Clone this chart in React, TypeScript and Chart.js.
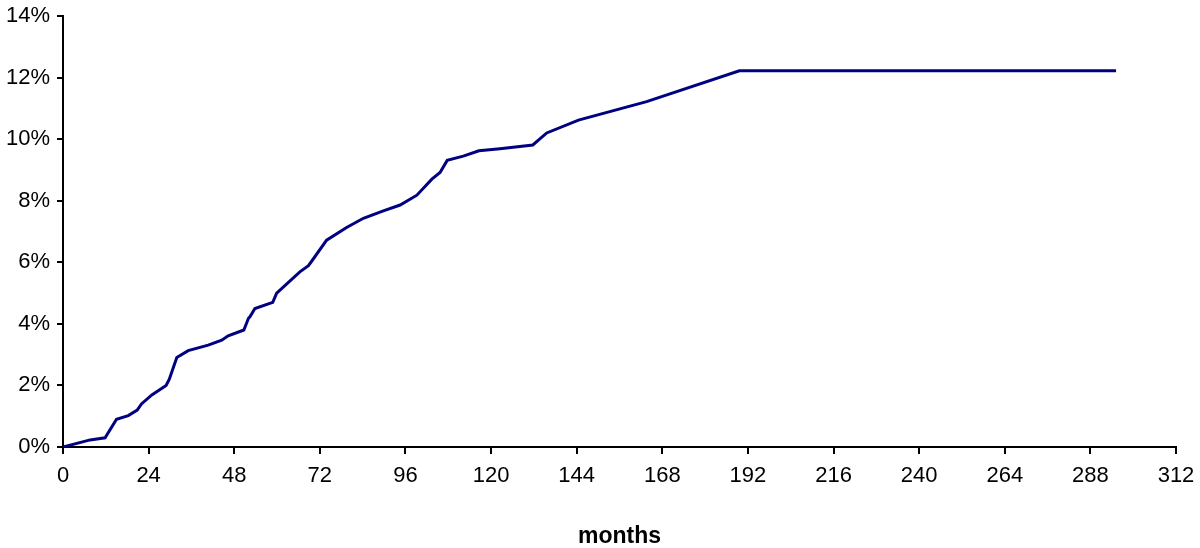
import React, { useEffect, useRef } from "react";
import { Chart, registerables } from "chart.js";

Chart.register(...registerables);

const months = [0, 7.6, 11.8, 15, 18.3, 20.8, 22, 24.9, 28.9, 29.8, 31.9, 35.1, 40.7, 44.5, 46.3, 50.7, 52, 52.4, 53.8, 58.8, 59.9, 66.4, 68.8, 69.8, 73.9, 79.5, 84.2, 89.8, 94.5, 99.2, 103.4, 105.7, 107.7, 112.2, 116.6, 122.5, 131.7, 135.6, 144.5, 163.6, 189.6, 295.2];
const incidence = [0, 0.23, 0.3, 0.9, 1.02, 1.2, 1.4, 1.69, 2.0, 2.2, 2.91, 3.13, 3.31, 3.47, 3.61, 3.8, 4.18, 4.23, 4.5, 4.7, 5.0, 5.69, 5.89, 6.05, 6.72, 7.13, 7.43, 7.67, 7.86, 8.18, 8.7, 8.92, 9.31, 9.45, 9.62, 9.69, 9.81, 10.2, 10.62, 11.22, 12.22, 12.22];
const xTicks = { min: 0, max: 312, step: 24 };
const yTicks = { min: 0, max: 14, step: 2 };
const xTitle = "months";

export default function App() {
  const ref = useRef<HTMLCanvasElement>(null);
  useEffect(() => {
    document.body.style.margin = "0";
    const ctx = ref.current!.getContext("2d")!;
    const font = { family: "'Liberation Sans', Arial, sans-serif", size: 22 };
    const chart = new Chart(ctx, {
      type: "line",
      data: {
        datasets: [
          {
            data: months.map((m, i) => ({ x: m, y: incidence[i] })),
            borderColor: "#000080",
            borderWidth: 3,
            pointRadius: 0,
            tension: 0,
            fill: false,
          },
        ],
      },
      options: {
        animation: false,
        responsive: false,
        maintainAspectRatio: false,
        layout: { padding: { top: 16, right: 24, left: 0, bottom: 0 } },
        plugins: { legend: { display: false }, tooltip: { enabled: false } },
        scales: {
          x: {
            type: "linear",
            min: xTicks.min,
            max: xTicks.max,
            ticks: { stepSize: xTicks.step, color: "#000", font, padding: 9, maxRotation: 0 },
            grid: { drawOnChartArea: false, drawTicks: true, tickLength: 7, color: "#000", lineWidth: 2 },
            border: { color: "#000", width: 2 },
            title: {
              display: true,
              text: xTitle,
              color: "#000",
              font: { ...font, size: 23, weight: "bold", lineHeight: 1 },
              padding: { top: 4, bottom: 0 },
            },
            afterFit: (s: any) => {
              s.height = 101;
              s.paddingLeft = 0;
              s.paddingRight = 0;
            },
          },
          y: {
            min: yTicks.min,
            max: yTicks.max,
            ticks: {
              stepSize: yTicks.step,
              color: "#000",
              font,
              padding: 7,
              callback: (v: any) => v + "%",
            },
            grid: { drawOnChartArea: false, drawTicks: true, tickLength: 6, color: "#000", lineWidth: 2 },
            border: { color: "#000", width: 2 },
            afterFit: (s: any) => {
              s.width = 63;
              s.paddingTop = 0;
              s.paddingBottom = 0;
            },
          },
        },
      },
    });
    return () => chart.destroy();
  }, []);
  return <canvas ref={ref} width={1200} height={548} style={{ display: "block" }} />;
}
